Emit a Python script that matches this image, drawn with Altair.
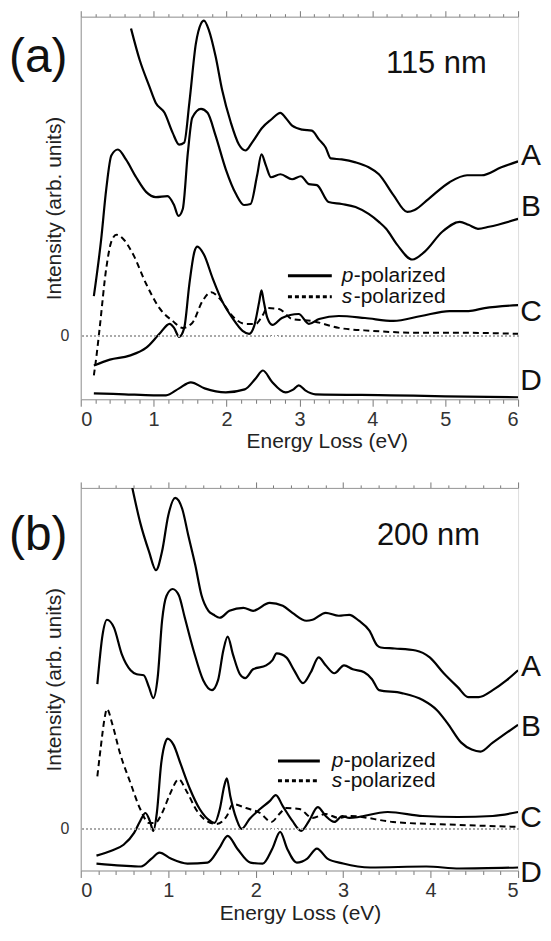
import altair as alt
import pandas as pd

# ---------------- Panel (a): 115 nm ----------------
a_A_x = [0.69, 0.81, 0.94, 1.03, 1.15, 1.26, 1.35, 1.42, 1.49, 1.58, 1.65, 1.69, 1.76, 1.85, 1.94, 2.06, 2.17,
         2.26, 2.35, 2.49, 2.61, 2.74, 2.81, 2.90, 3.04, 3.17, 3.27, 3.36, 3.43, 3.58, 3.77, 3.95, 4.09, 4.29,
         4.48, 4.58, 4.77, 5.06, 5.30, 5.50, 5.77, 6.00]
a_A_y = [31.0, 27.8, 25.2, 23.5, 22.5, 20.5, 19.3, 19.5, 23.5, 29.5, 31.5, 31.8, 30.8, 28.2, 24.8, 21.5, 19.3,
         18.7, 19.5, 21.0, 21.8, 22.5, 22.0, 21.2, 20.8, 20.7, 19.8, 19.0, 17.9, 17.8, 17.5, 17.0, 16.3, 14.2,
         12.5, 12.7, 13.8, 15.5, 16.2, 16.2, 17.0, 17.6]

a_B_x = [0.18, 0.28, 0.35, 0.42, 0.51, 0.62, 0.76, 0.90, 1.03, 1.19, 1.28, 1.34, 1.40, 1.47, 1.53, 1.65, 1.74,
         1.85, 1.99, 2.13, 2.24, 2.33, 2.42, 2.48, 2.54, 2.61, 2.74, 2.90, 3.02, 3.13, 3.24, 3.40, 3.58, 3.77,
         3.95, 4.09, 4.19, 4.34, 4.55, 4.72, 4.96, 5.20, 5.32, 5.45, 5.60, 6.00]
a_B_y = [4.0, 9.7, 14.8, 18.2, 18.8, 17.8, 16.0, 14.5, 14.0, 14.1, 13.2, 12.1, 12.8, 18.5, 22.0, 22.9, 22.5,
         20.2, 16.8, 14.3, 13.2, 13.3, 16.2, 18.3, 17.2, 16.0, 16.3, 15.8, 16.1, 15.3, 15.2, 13.5, 13.3, 13.0,
         12.3, 11.5, 10.8, 9.2, 7.7, 8.5, 10.5, 11.5, 11.2, 10.8, 11.0, 11.8]

a_Cp_x = [0.18, 0.40, 0.67, 0.90, 1.08, 1.22, 1.28, 1.35, 1.42, 1.49, 1.56, 1.60, 1.69, 1.81, 1.94, 2.08, 2.22,
          2.31, 2.38, 2.45, 2.48, 2.51, 2.56, 2.63, 2.76, 2.99, 3.13, 3.27, 3.54, 3.90, 4.29, 4.67, 5.06, 5.32,
          5.54, 6.00]
a_Cp_y = [-3.0, -2.4, -2.0, -1.2, 0.2, 1.2, 0.8, -0.1, 0.8, 5.2, 8.5, 9.0, 8.2, 5.8, 3.5, 1.8, 0.5,
          0.2, 1.0, 3.5, 4.6, 3.5, 1.8, 1.1, 1.8, 2.2, 1.2, 1.7, 2.0, 1.8, 1.5, 2.0, 2.5, 2.5,
          2.8, 3.1]

a_Cs_x = [0.18, 0.22, 0.26, 0.35, 0.42, 0.49, 0.58, 0.72, 0.90, 1.08, 1.26, 1.40, 1.53, 1.67, 1.79, 1.90, 2.08,
          2.26, 2.40, 2.49, 2.56, 2.72, 2.90, 3.17, 3.54, 4.00, 4.67, 5.30, 6.00]
a_Cs_y = [-4.0, -1.8, 0.8, 6.8, 9.5, 10.2, 9.8, 8.2, 5.2, 2.8, 1.5, 0.8, 1.3, 3.5, 4.4, 3.8, 2.0,
          1.2, 1.2, 2.0, 2.8, 2.7, 1.7, 1.5, 0.8, 0.5, 0.3, 0.3, 0.2]

a_D_x = [0.18, 0.60, 1.00, 1.17, 1.35, 1.51, 1.70, 1.99, 2.25, 2.40, 2.50, 2.62, 2.81, 2.92, 2.99, 3.08, 3.22,
         4.26, 5.00, 6.00]
a_D_y = [-5.8, -5.9, -6.0, -6.0, -5.3, -4.7, -5.3, -5.7, -5.4, -4.3, -3.5, -4.6, -5.7, -5.4, -5.0, -5.5, -5.9,
         -6.0, -6.1, -6.2]

# ---------------- Panel (b): 200 nm ----------------
b_A_x = [0.59, 0.68, 0.78, 0.86, 0.93, 1.00, 1.08, 1.16, 1.23, 1.31, 1.38, 1.46, 1.52, 1.59, 1.70, 1.86, 1.97,
         2.16, 2.31, 2.42, 2.58, 2.65, 2.80, 2.95, 3.07, 3.18, 3.30, 3.39, 3.43, 3.59, 3.83, 3.99, 4.15, 4.31,
         4.43, 4.55, 4.71, 4.87, 5.00]
b_A_y = [34.4, 30.9, 28.0, 26.1, 28.0, 31.6, 33.4, 32.3, 29.6, 26.6, 23.6, 22.0, 21.6, 21.3, 22.0, 22.3, 22.0,
         22.8, 22.5, 21.8, 21.0, 21.1, 21.8, 21.5, 21.6, 21.0, 20.0, 18.5, 18.3, 18.2, 18.0, 17.3, 15.7, 14.3,
         13.3, 13.3, 14.0, 15.0, 16.0]

b_B_x = [0.19, 0.25, 0.30, 0.38, 0.47, 0.57, 0.64, 0.72, 0.78, 0.83, 0.88, 0.93, 0.98, 1.05, 1.12, 1.19, 1.29,
         1.40, 1.50, 1.57, 1.63, 1.68, 1.74, 1.82, 1.88, 1.97, 2.12, 2.19, 2.24, 2.35, 2.44, 2.54, 2.63, 2.72,
         2.80, 2.90, 3.01, 3.11, 3.24, 3.33, 3.41, 3.67, 3.91, 4.07, 4.19, 4.35, 4.47, 4.57, 4.71, 4.87, 5.00]
b_B_y = [14.6, 19.6, 21.1, 20.3, 17.6, 16.0, 15.6, 15.5, 14.3, 13.2, 15.3, 21.0, 23.5, 24.2, 23.6, 21.3, 18.0,
         15.0, 14.0, 15.0, 18.0, 19.4, 17.6, 15.6, 15.2, 16.1, 16.5, 17.0, 17.7, 17.3, 16.0, 14.7, 15.8, 17.3,
         16.5, 15.7, 16.5, 16.1, 15.8, 15.1, 14.0, 13.7, 13.0, 12.0, 10.7, 8.7, 8.0, 7.8, 8.7, 9.7, 10.5]

b_Cp_x = [0.18, 0.35, 0.49, 0.61, 0.68, 0.74, 0.79, 0.83, 0.87, 0.92, 0.97, 0.99, 1.06, 1.14, 1.25, 1.36, 1.48,
          1.53, 1.59, 1.64, 1.67, 1.71, 1.78, 1.84, 1.93, 2.05, 2.16, 2.23, 2.31, 2.42, 2.52, 2.61, 2.71, 2.80,
          2.90, 2.99, 3.07, 3.51, 3.91, 4.31, 4.71, 5.00]
b_Cp_y = [-2.7, -2.2, -1.6, -0.4, 0.8, 1.6, 0.8, -0.2, 1.6, 6.6, 8.8, 9.1, 8.5, 6.6, 4.0, 2.0, 0.8,
          0.6, 2.0, 4.3, 5.1, 3.3, 1.0, 0.0, 1.0, 2.0, 2.8, 3.4, 2.3, 0.8, -0.2, 0.8, 2.2, 1.3,
          0.7, 1.3, 1.1, 1.7, 1.3, 1.2, 1.3, 1.7]

b_Cs_x = [0.19, 0.23, 0.27, 0.30, 0.36, 0.45, 0.57, 0.68, 0.78, 0.85, 0.93, 1.02, 1.12, 1.21, 1.33, 1.44, 1.55,
          1.67, 1.74, 1.89, 2.05, 2.18, 2.27, 2.35, 2.50, 2.65, 2.80, 2.95, 3.07, 3.57, 4.33, 5.00]
b_Cs_y = [5.3, 8.3, 11.0, 12.1, 10.6, 7.6, 4.6, 2.0, 0.6, 0.6, 1.6, 3.5, 5.0, 3.8, 1.8, 0.8, 0.5,
          1.3, 2.5, 2.1, 1.6, 0.7, 1.5, 2.1, 2.0, 1.1, 1.5, 1.1, 1.3, 0.7, 0.4, 0.2]

b_D_x = [0.18, 0.47, 0.69, 0.81, 0.90, 1.03, 1.22, 1.45, 1.58, 1.68, 1.79, 1.94, 2.08, 2.19, 2.28, 2.36, 2.47,
         2.59, 2.70, 2.82, 3.00, 3.31, 3.95, 4.33, 5.00]
b_D_y = [-3.5, -3.7, -3.8, -3.0, -2.4, -3.0, -3.5, -3.4, -2.0, -0.7, -2.0, -3.4, -3.5, -2.0, -0.3, -2.0, -3.4,
         -3.0, -2.0, -3.0, -3.5, -3.9, -3.8, -4.0, -3.9]

curve_names = ["A", "B", "C", "D"]
legend_labels = [("p", "-polarized"), ("s", "-polarized")]
panel_tags = ["(a)", "(b)"]
panel_sizes = ["115 nm", "200 nm"]
x_title = "Energy Loss (eV)"
y_title = "Intensity (arb. units)"

FONT = "Liberation Sans"
GRAY = "#9a9a9a"
H = 384


def frame(series):
    rows = []
    for name, xs, ys in series:
        for x, y in zip(xs, ys):
            rows.append({"s": name, "x": x, "y": y})
    return pd.DataFrame(rows)


def panel(solid, dashed, xmax, ydom, W, tag, size_txt, opts):
    df_s = frame(solid)
    df_d = frame(dashed)
    ticks = [round(i * 0.2, 1) for i in range(int(round(xmax / 0.2)) + 1)]
    is_major = "abs(datum.value - round(datum.value)) < 0.001"
    xs = alt.Scale(domain=[0, xmax], nice=False, zero=False)
    ys = alt.Scale(domain=ydom, nice=False, zero=False)

    x_bottom = alt.X("x:Q", scale=xs, axis=alt.Axis(
        orient="bottom", values=ticks, labelExpr=is_major + " ? '' + round(datum.value) : ''",
        tickSize={"condition": {"test": is_major, "value": 7}, "value": 4},
        tickColor="#777", tickWidth=1, domainColor=GRAY, grid=False,
        labelFont=FONT, labelFontSize=20, labelColor="#333", labelPadding=3,
        title=x_title, titleFont=FONT, titleFontSize=21, titleFontWeight="normal",
        titleColor="#222", titleX=opts["tx"], titleY=opts["ty"], titleBaseline="alphabetic",
        titleAlign="center"))
    y_left = alt.Y("y:Q", scale=ys, axis=alt.Axis(
        values=[0], ticks=False, tickSize=0, grid=False, domainColor=GRAY,
        labelFont=FONT, labelFontSize=16, labelColor="#333", labelPadding=12,
        title=y_title, titleFont=FONT, titleFontSize=21, titleFontWeight="normal",
        titleColor="#222", titleX=-20, titleY=H / 2, titleBaseline="alphabetic",
        titleAlign="center", titleAngle=270))

    solid_lines = alt.Chart(df_s).mark_line(color="black", strokeWidth=2.2, clip=True,
                                           interpolate="monotone").encode(
        x=x_bottom, y=y_left, detail="s:N")
    dashed_lines = alt.Chart(df_d).mark_line(color="black", strokeWidth=2, strokeDash=[6, 4],
                                            clip=True, interpolate="monotone").encode(
        x=alt.X("x:Q", scale=xs, axis=None), y=y_left, detail="s:N")
    top_axis = alt.Chart(df_s).mark_point(opacity=0, size=1).encode(
        x=alt.X("x:Q", scale=xs, axis=alt.Axis(
            orient="top", values=ticks, labels=False, title=None,
            tickSize={"condition": {"test": is_major, "value": 6}, "value": 3},
            tickColor="#777", domainColor=GRAY, grid=False)),
        y=y_left)
    zero = alt.Chart(df_s).mark_rule(color="#aaaaaa", strokeWidth=1, strokeDash=[1, 3]).encode(
        y=alt.datum(0))

    texts = []
    base = alt.Chart(pd.DataFrame({"t": [""]}))
    texts.append(base.mark_text(text=tag, font=FONT, fontSize=48, align="left", baseline="middle",
                                color="#111").encode(x=alt.value(opts["tagx"]), y=alt.value(opts["tagy"])))
    texts.append(base.mark_text(text=size_txt, font=FONT, fontSize=31, align="center",
                                baseline="middle", color="#111").encode(
        x=alt.value(opts["sx"]), y=alt.value(opts["sy"])))
    for name, py in zip(curve_names, opts["lab_y"]):
        texts.append(base.mark_text(text=name, font=FONT, fontSize=30, align="center",
                                    baseline="middle", color="#111").encode(
            x=alt.value(opts["lab_x"]), y=alt.value(py)))
    lx0, lx1 = opts["leg_x"]
    for (ital, rest), py, dash in zip(legend_labels, opts["leg_y"], [None, [4, 3]]):
        if dash is None:
            rule = base.mark_rule(color="black", strokeWidth=3)
        else:
            rule = base.mark_rule(color="black", strokeWidth=3, strokeDash=dash)
        texts.append(rule.encode(x=alt.value(lx0), x2=alt.value(lx1), y=alt.value(py)))
        texts.append(base.mark_text(text=ital, font=FONT, fontSize=21, fontStyle="italic",
                                    align="left", baseline="middle", color="#111").encode(
            x=alt.value(opts["leg_tx"]), y=alt.value(py)))
        texts.append(base.mark_text(text=rest, font=FONT, fontSize=21, align="left",
                                    baseline="middle", color="#111").encode(
            x=alt.value(opts["leg_tx"] + 12), y=alt.value(py)))

    layer = alt.layer(solid_lines, top_axis, dashed_lines, zero, *texts).resolve_axis(
        x="independent").properties(width=W, height=H)
    return layer


panel_a = panel(
    solid=[("A", a_A_x, a_A_y), ("B", a_B_x, a_B_y), ("C", a_Cp_x, a_Cp_y), ("D", a_D_x, a_D_y)],
    dashed=[("Cs", a_Cs_x, a_Cs_y)],
    xmax=6, ydom=[-6.4, 32.2], W=439, tag=panel_tags[0], size_txt=panel_sizes[0],
    opts=dict(tx=247, ty=48, tagx=-72, tagy=42, sx=357, sy=48,
              lab_x=452, lab_y=[140, 191, 296, 366],
              leg_x=(208, 252), leg_y=[260, 281], leg_tx=262))

panel_b = panel(
    solid=[("A", b_A_x, b_A_y), ("B", b_B_x, b_B_y), ("C", b_Cp_x, b_Cp_y), ("D", b_D_x, b_D_y)],
    dashed=[("Cs", b_Cs_x, b_Cs_y)],
    xmax=5, ydom=[-4.2, 34.4], W=439, tag=panel_tags[1], size_txt=panel_sizes[1],
    opts=dict(tx=220, ty=49, tagx=-72, tagy=48, sx=349, sy=48,
              lab_x=452, lab_y=[180, 240, 331, 387],
              leg_x=(198, 240), leg_y=[274, 294], leg_tx=252))

chart = alt.vconcat(panel_a, panel_b, spacing=89, bounds="flush").properties(
    padding={"left": 0, "top": 0, "right": 0, "bottom": 0}
).configure_view(stroke=GRAY, strokeWidth=1).configure(background="white")

chart.save("out.html", embed_options={"renderer": "svg", "actions": False})
